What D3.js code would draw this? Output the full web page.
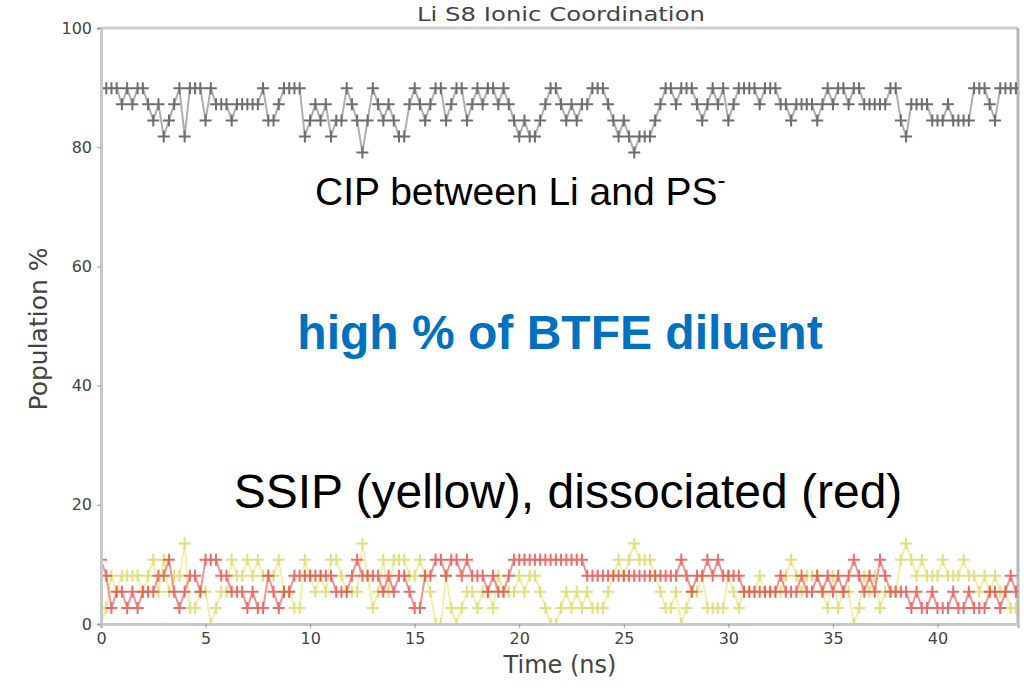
<!DOCTYPE html>
<html>
<head>
<meta charset="utf-8">
<script src="https://cdn.jsdelivr.net/npm/d3@7"></script>
<style>
  body { margin: 0; background: #fff; }
  svg { display: block; }
</style>
</head>
<body>
<svg id="chart" width="1024" height="693"></svg>
<script>
// time axis, 0.25 ns per frame
const timeStep = 0.25;

// CIP population (%)
const cipValues = [
  89.9, 89.9, 89.9, 89.9, 87.2, 89.9, 87.2, 89.9, 89.9, 87.2, 84.5, 87.2,
  81.8, 84.5, 87.2, 89.9, 81.8, 89.9, 89.9, 89.9, 84.5, 89.9, 87.2, 87.2,
  87.2, 84.5, 87.2, 87.2, 87.2, 87.2, 87.2, 89.9, 84.5, 84.5, 87.2, 89.9,
  89.9, 89.9, 89.9, 81.8, 84.5, 87.2, 84.5, 87.2, 81.8, 84.5, 84.5, 89.9,
  87.2, 84.5, 79.1, 84.5, 89.9, 87.2, 84.5, 87.2, 84.5, 81.8, 81.8, 87.2,
  89.9, 87.2, 84.5, 87.2, 89.9, 89.9, 84.5, 87.2, 89.9, 89.9, 84.5, 87.2,
  89.9, 87.2, 89.9, 89.9, 87.2, 89.9, 87.2, 84.5, 81.8, 84.5, 81.8, 81.8,
  84.5, 87.2, 89.9, 89.9, 87.2, 84.5, 87.2, 84.5, 87.2, 87.2, 89.9, 89.9,
  89.9, 87.2, 84.5, 81.8, 84.5, 81.8, 79.1, 81.8, 81.8, 81.8, 84.5, 87.2,
  89.9, 89.9, 87.2, 89.9, 89.9, 89.9, 87.2, 84.5, 87.2, 89.9, 87.2, 89.9,
  84.5, 87.2, 89.9, 89.9, 89.9, 89.9, 87.2, 89.9, 89.9, 89.9, 87.2, 87.2,
  84.5, 87.2, 87.2, 87.2, 87.2, 84.5, 87.2, 89.9, 87.2, 89.9, 89.9, 87.2,
  89.9, 89.9, 87.2, 87.2, 87.2, 87.2, 87.2, 89.9, 89.9, 84.5, 81.8, 87.2,
  87.2, 87.2, 87.2, 84.5, 84.5, 84.5, 87.2, 84.5, 84.5, 84.5, 84.5, 89.9,
  89.9, 89.9, 87.2, 84.5, 89.9, 89.9, 89.9, 89.9
];

// dissociated population (%), red trace
const dissValues = [
  10.8, 8.1, 2.7, 5.4, 5.4, 2.7, 5.4, 2.7, 5.4, 5.4, 5.4, 8.1,
  8.1, 10.8, 5.4, 2.7, 5.4, 8.1, 8.1, 5.4, 10.8, 10.8, 10.8, 8.1,
  8.1, 5.4, 5.4, 5.4, 2.7, 5.4, 2.7, 2.7, 8.1, 5.4, 2.7, 5.4,
  5.4, 8.1, 8.1, 8.1, 8.1, 8.1, 8.1, 8.1, 8.1, 5.4, 5.4, 5.4,
  8.1, 10.8, 8.1, 8.1, 8.1, 8.1, 5.4, 8.1, 5.4, 8.1, 8.1, 5.4,
  2.7, 2.7, 8.1, 8.1, 10.8, 10.8, 8.1, 10.8, 10.8, 8.1, 10.8, 8.1,
  8.1, 8.1, 5.4, 8.1, 5.4, 5.4, 8.1, 10.8, 10.8, 10.8, 10.8, 10.8,
  10.8, 10.8, 10.8, 10.8, 10.8, 10.8, 10.8, 10.8, 10.8, 8.1, 8.1, 8.1,
  8.1, 8.1, 8.1, 8.1, 8.1, 8.1, 8.1, 8.1, 8.1, 8.1, 8.1, 8.1,
  8.1, 8.1, 8.1, 10.8, 8.1, 5.4, 8.1, 8.1, 10.8, 8.1, 10.8, 8.1,
  8.1, 8.1, 8.1, 5.4, 5.4, 5.4, 5.4, 5.4, 5.4, 5.4, 8.1, 5.4,
  5.4, 5.4, 8.1, 5.4, 5.4, 8.1, 5.4, 8.1, 5.4, 8.1, 5.4, 8.1,
  10.8, 8.1, 5.4, 8.1, 5.4, 10.8, 8.1, 5.4, 5.4, 5.4, 5.4, 2.7,
  5.4, 2.7, 2.7, 5.4, 2.7, 2.7, 2.7, 5.4, 2.7, 2.7, 5.4, 2.7,
  2.7, 2.7, 5.4, 5.4, 2.7, 5.4, 8.1, 5.4
];

// SSIP population (%), yellow trace
const ssipValues = [
  0, 2.7, 8.1, 5.4, 8.1, 8.1, 8.1, 8.1, 5.4, 8.1, 10.8, 5.4,
  10.8, 5.4, 8.1, 8.1, 13.5, 2.7, 2.7, 5.4, 5.4, 0, 2.7, 5.4,
  5.4, 10.8, 8.1, 8.1, 10.8, 8.1, 10.8, 8.1, 8.1, 8.1, 10.8, 5.4,
  5.4, 2.7, 2.7, 10.8, 8.1, 5.4, 8.1, 5.4, 10.8, 10.8, 8.1, 5.4,
  5.4, 5.4, 13.5, 8.1, 2.7, 5.4, 10.8, 5.4, 10.8, 10.8, 10.8, 8.1,
  8.1, 10.8, 8.1, 5.4, 0, 0, 8.1, 2.7, 0, 2.7, 5.4, 5.4,
  2.7, 5.4, 5.4, 2.7, 8.1, 5.4, 5.4, 5.4, 8.1, 5.4, 8.1, 8.1,
  5.4, 2.7, 0, 0, 2.7, 5.4, 2.7, 5.4, 2.7, 5.4, 2.7, 2.7,
  2.7, 5.4, 8.1, 10.8, 8.1, 10.8, 13.5, 10.8, 10.8, 10.8, 8.1, 5.4,
  2.7, 2.7, 5.4, 0, 2.7, 5.4, 5.4, 8.1, 2.7, 2.7, 2.7, 2.7,
  8.1, 5.4, 2.7, 5.4, 5.4, 5.4, 8.1, 5.4, 5.4, 5.4, 5.4, 8.1,
  10.8, 8.1, 5.4, 8.1, 8.1, 8.1, 5.4, 2.7, 8.1, 2.7, 5.4, 5.4,
  0, 2.7, 8.1, 5.4, 8.1, 2.7, 5.4, 5.4, 5.4, 10.8, 13.5, 10.8,
  8.1, 10.8, 8.1, 8.1, 8.1, 10.8, 8.1, 8.1, 8.1, 10.8, 8.1, 8.1,
  5.4, 8.1, 5.4, 8.1, 5.4, 5.4, 2.7, 2.7
];

const xTicks = [0, 5, 10, 15, 20, 25, 30, 35, 40];
const yTicks = [0, 20, 40, 60, 80, 100];

const svg = d3.select('#chart');
const plot = {left: 101, right: 1018, top: 28, bottom: 624};

const x = d3.scaleLinear().domain([0, 43.85]).range([plot.left, plot.right]);
const y = d3.scaleLinear().domain([0, 100]).range([plot.bottom, plot.top]);

svg.append('defs').append('clipPath').attr('id', 'plotClip')
  .append('rect')
  .attr('x', plot.left).attr('y', plot.top - 10)
  .attr('width', plot.right - plot.left).attr('height', plot.bottom - plot.top + 12);

// title, squeezed into the strip above the frame
svg.append('text')
  .attr('x', 417).attr('y', 21)
  .attr('textLength', 288)
  .attr('lengthAdjust', 'spacingAndGlyphs')
  .style('font-family', 'DejaVu Sans')
  .style('font-size', '19px')
  .style('fill', '#444')
  .text('Li S8 Ionic Coordination');

// frame
svg.append('line')
  .attr('x1', plot.left).attr('x2', plot.right)
  .attr('y1', plot.top).attr('y2', plot.top)
  .attr('stroke', '#d0d0d0').attr('stroke-width', 3);
svg.append('line')
  .attr('x1', plot.right).attr('x2', plot.right)
  .attr('y1', plot.top).attr('y2', plot.bottom)
  .attr('stroke', '#b8b8b8').attr('stroke-width', 3);

function drawSeries(values, lineColor, markColor, opacity) {
  const pts = values.map((v, i) => ({t: i * timeStep, v: v}));
  const g = svg.append('g').attr('clip-path', 'url(#plotClip)').attr('opacity', opacity);
  g.append('path')
    .datum(pts)
    .attr('fill', 'none')
    .attr('stroke', lineColor)
    .attr('stroke-width', 2)
    .attr('d', d3.line().x(d => x(d.t)).y(d => y(d.v)));
  g.append('path')
    .attr('fill', 'none')
    .attr('stroke', markColor)
    .attr('stroke-width', 2)
    .attr('d', pts.map(d => {
      let cx = x(d.t), cy = y(d.v);
      return `M${cx - 6},${cy}H${cx + 6}M${cx},${cy - 6}V${cy + 6}`;
    }).join(''));
}

drawSeries(cipValues, '#a0a0a0', '#555', 0.85);
drawSeries(ssipValues, '#eaea8a', '#d2d24a', 0.7);
drawSeries(dissValues, '#f27070', '#e63c3c', 0.75);

// axes
const xAxis = svg.append('g')
  .attr('transform', `translate(0,${plot.bottom})`)
  .call(d3.axisBottom(x).tickValues(xTicks).tickSize(4).tickPadding(5));
const yAxis = svg.append('g')
  .attr('transform', `translate(${plot.left},0)`)
  .call(d3.axisLeft(y).tickValues(yTicks).tickSize(4).tickPadding(5));

[xAxis, yAxis].forEach(a => {
  a.select('.domain').attr('stroke', '#c8c8c8').attr('stroke-width', 3);
  a.selectAll('.tick line').attr('stroke', '#999');
  a.selectAll('.tick text')
    .style('font-family', 'DejaVu Sans')
    .style('font-size', '16px')
    .style('fill', '#444');
});

svg.append('text')
  .attr('x', 560).attr('y', 673)
  .attr('text-anchor', 'middle')
  .style('font-family', 'DejaVu Sans')
  .style('font-size', '24px')
  .style('fill', '#444')
  .text('Time (ns)');

svg.append('text')
  .attr('transform', 'translate(47,329) rotate(-90)')
  .attr('text-anchor', 'middle')
  .style('font-family', 'DejaVu Sans')
  .style('font-size', '25px')
  .style('fill', '#444')
  .text('Population %');

// annotations laid over the chart
const cip = svg.append('text')
  .attr('x', 315).attr('y', 205)
  .style('font-family', 'Liberation Sans, Arial')
  .style('font-size', '39px')
  .style('fill', '#000');
cip.append('tspan').text('CIP between Li and PS');
cip.append('tspan').attr('dy', -17).style('font-size', '24px').text('-');

svg.append('text')
  .attr('x', 560).attr('y', 349)
  .attr('text-anchor', 'middle')
  .style('font-family', 'Liberation Sans, Arial')
  .style('font-weight', 'bold')
  .style('font-size', '48px')
  .style('fill', '#0070C0')
  .text('high % of BTFE diluent');

svg.append('text')
  .attr('x', 568).attr('y', 508)
  .attr('text-anchor', 'middle')
  .style('font-family', 'Liberation Sans, Arial')
  .style('font-size', '48px')
  .style('fill', '#000')
  .text('SSIP (yellow), dissociated (red)');
</script>
</body>
</html>
